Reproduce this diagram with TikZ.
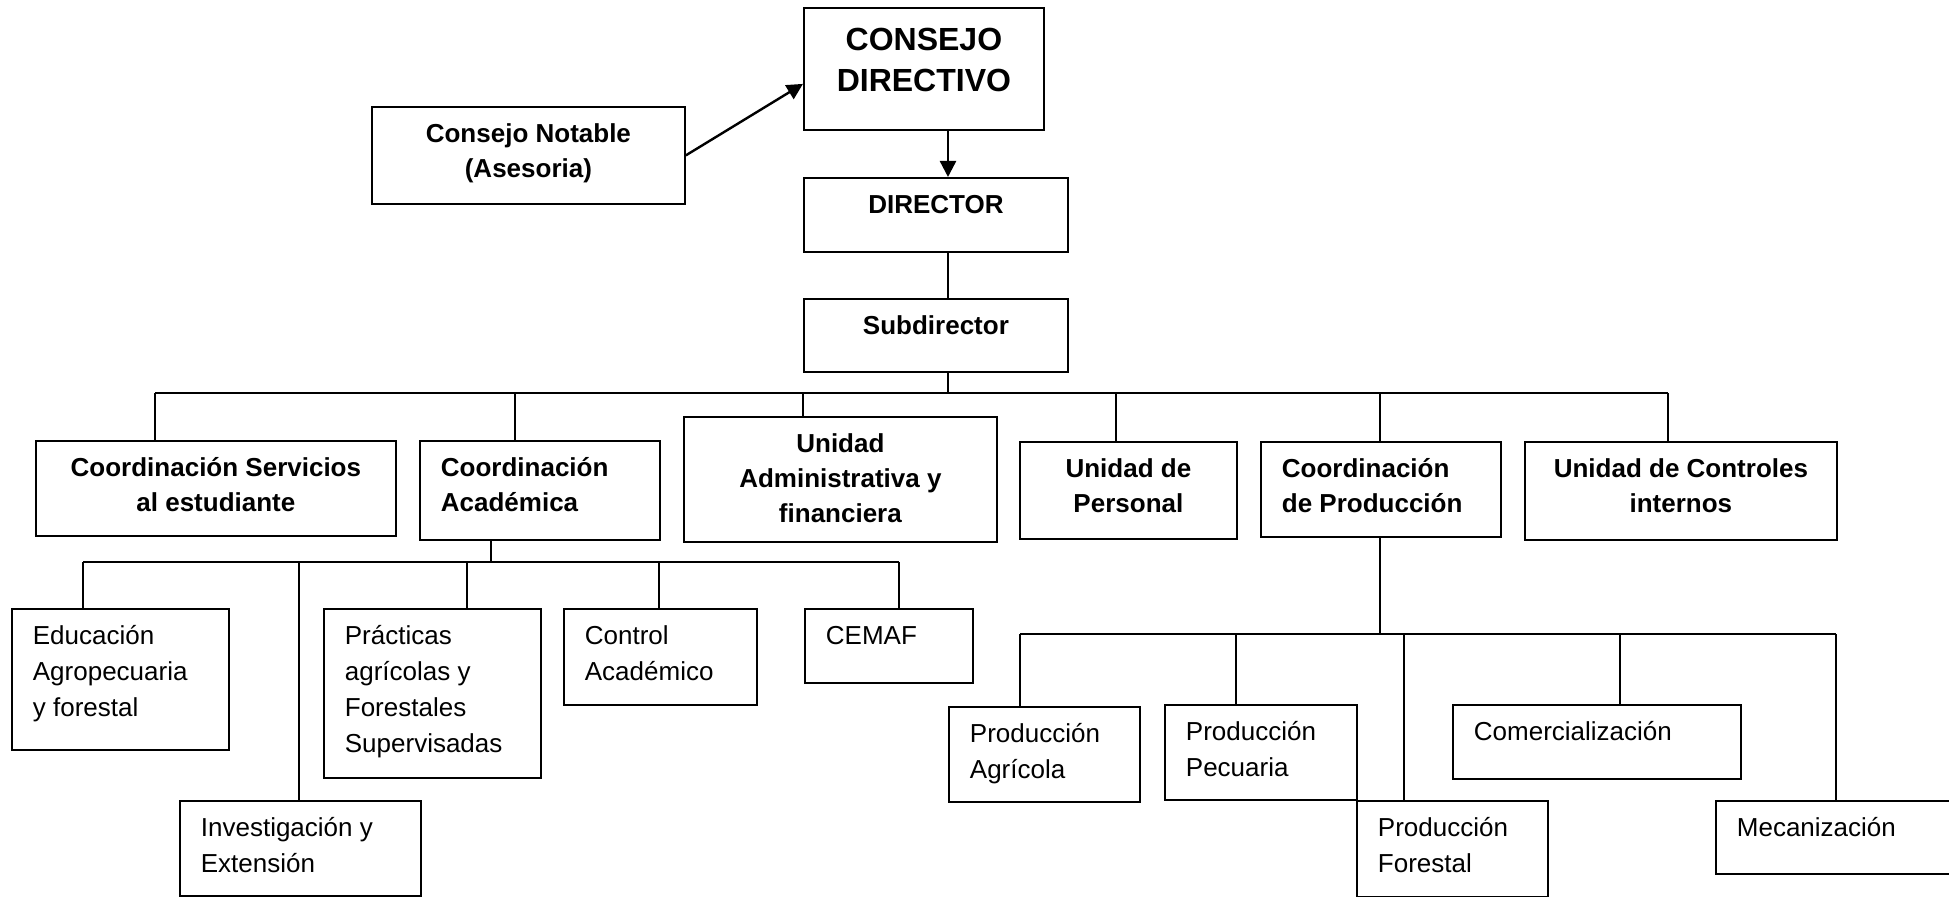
\documentclass[tikz,border=0pt]{standalone}
\usepackage{fontspec}
\setmainfont{Liberation Sans}
\usetikzlibrary{arrows.meta, calc}
\newlength{\px}
\setlength{\px}{0.5pt}
\newcommand{\headArrow}{{Triangle[length=8pt, width=8pt]}}
\newcommand{\alignL}{\raggedright\leftskip=10.5pt}
\newcommand{\alignC}{\centering}
% box text sits at the top of a box of fixed size (in px)
\newcommand{\intext}[4]{\parbox[c][#2\px][t]{#1\px}{#3\rule{0pt}{18pt}#4}}

\begin{document}
\begin{tikzpicture}[x=0.5pt, y=-0.5pt,
	unit/.style={draw, line width=0.9pt, inner sep=0pt, anchor=north west, font=\fontsize{13}{17.5}\selectfont\bfseries},
	area/.style={unit, font=\fontsize{13}{18}\selectfont},
	link/.style={line width=0.7pt},
	flow/.style={line width=1.2pt, -\headArrow}]
	\useasboundingbox (0,0) rectangle (1949,897);
	\clip (0,0) rectangle (1949,897);

	% top of the chart
	\node[unit, font=\fontsize{16}{20.5}\selectfont\bfseries] (cd) at (803,7)
		{\parbox[c][122\px][t]{240\px}{\centering\rule{0pt}{21.5pt}CONSEJO\\DIRECTIVO}};
	\node[unit] (cn)  at (371,106) {\intext{313}{97}{\alignC}{Consejo Notable\\(Asesoria)}};
	\node[unit] (dir) at (803,177) {\intext{264}{74}{\alignC}{DIRECTOR}};
	\node[unit] (sub) at (803,298) {\intext{264}{73}{\alignC}{Subdirector}};

	% second level
	\node[unit] (cse) at (35,440)   {\intext{360}{95}{\alignC}{Coordinación Servicios\\al estudiante}};
	\node[unit] (cac) at (419,440)  {\intext{240}{99}{\alignL}{Coordinación\\Académica}};
	\node[unit] (uaf) at (683,416)  {\intext{313}{125}{\alignC}{Unidad\\Administrativa y\\financiera}};
	\node[unit] (upe) at (1019,441) {\intext{217}{97}{\alignC}{Unidad de\\Personal}};
	\node[unit] (cpr) at (1260,441) {\intext{240}{95}{\alignL}{Coordinación\\de Producción}};
	\node[unit] (uci) at (1524,441) {\intext{312}{98}{\alignC}{Unidad de Controles\\internos}};

	% academic areas
	\node[area] (edu) at (11,608)  {\intext{217}{141}{\alignL}{Educación\\Agropecuaria\\y forestal}};
	\node[area] (inv) at (179,800) {\intext{241}{95}{\alignL}{Investigación y\\Extensión}};
	\node[area] (pra) at (323,608) {\intext{217}{169}{\alignL}{Prácticas\\agrícolas y\\Forestales\\Supervisadas}};
	\node[area] (cta) at (563,608) {\intext{193}{96}{\alignL}{Control\\Académico}};
	\node[area] (cem) at (804,608) {\intext{168}{74}{\alignL}{CEMAF}};

	% production areas
	\node[area] (pag) at (948,706)  {\intext{191}{95}{\alignL}{Producción\\Agrícola}};
	\node[area] (ppe) at (1164,704) {\intext{192}{95}{\alignL}{Producción\\Pecuaria}};
	\node[area] (pfo) at (1356,800) {\intext{191}{96}{\alignL}{Producción\\Forestal}};
	\node[area] (com) at (1452,704) {\intext{288}{74}{\alignL}{Comercialización}};
	\node[area] (mec) at (1715,800) {\intext{260}{73}{\alignL}{Mecanización}};

	% connectors
	\coordinate (sp) at (948,0);
	\draw[flow] (cn.east) -- ([yshift=-7.5pt]cd.west);
	\draw[flow] (cd.south -| sp) -- (dir.north -| sp);
	\draw[link] (dir.south -| sp) -- (sub.north -| sp);

	\foreach \n/\x in {cse/155, cac/515, uaf/803, upe/1116, cpr/1380, uci/1668}{
		\coordinate (d-\n) at (\x,393);
		\draw[link] (d-\n) -- (d-\n |- \n.north);
	}
	\draw[link] (d-cse) -- (d-uci);
	\draw[link] (sub.south -| sp) -- (d-cse -| sp);

	\coordinate (ac) at (491,562);
	\draw[link] (cac.south -| ac) -- (ac);
	\foreach \n/\x in {edu/83, inv/299, pra/467, cta/659, cem/899}{
		\coordinate (a-\n) at (\x,562);
		\draw[link] (a-\n) -- (a-\n |- \n.north);
	}
	\draw[link] (a-edu) -- (a-cem);

	\coordinate (pc) at (1380,634);
	\draw[link] (cpr.south -| pc) -- (pc);
	\foreach \n/\x in {pag/1020, ppe/1236, pfo/1404, com/1620, mec/1836}{
		\coordinate (p-\n) at (\x,634);
		\draw[link] (p-\n) -- (p-\n |- \n.north);
	}
	\draw[link] (p-pag) -- (p-mec);
\end{tikzpicture}
\end{document}
